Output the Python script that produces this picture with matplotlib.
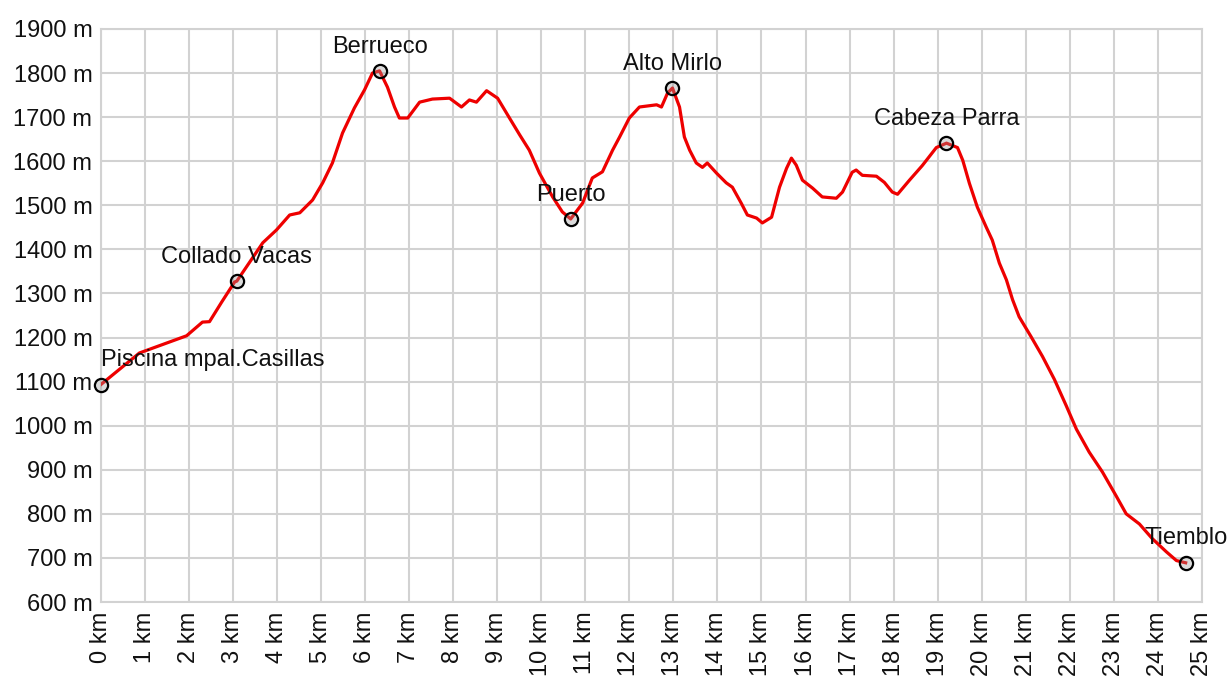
import matplotlib
matplotlib.use('Agg')
import matplotlib.pyplot as plt

# elevation profile (km, m)
dist = [0, 0.88, 1.95, 2.31, 2.47, 2.75, 3.04, 3.09, 3.68, 3.99, 4.29, 4.52, 4.81, 5.04,
        5.26, 5.49, 5.76, 5.99, 6.17, 6.33, 6.51, 6.67, 6.78, 6.97, 7.24, 7.53, 7.92, 8.19,
        8.37, 8.53, 8.76, 9.01, 9.28, 9.51, 9.73, 9.96, 10.26, 10.48, 10.67, 10.94, 11.16,
        11.39, 11.62, 11.78, 12.0, 12.23, 12.62, 12.73, 12.87, 12.98, 13.14, 13.25, 13.37,
        13.52, 13.66, 13.77, 13.98, 14.2, 14.34, 14.54, 14.68, 14.89, 15.02, 15.23, 15.41,
        15.57, 15.68, 15.79, 15.93, 16.16, 16.38, 16.7, 16.84, 17.06, 17.15, 17.29, 17.61,
        17.79, 17.97, 18.09, 18.36, 18.65, 18.97, 19.2, 19.45, 19.57, 19.72, 19.9, 20.1,
        20.24, 20.4, 20.56, 20.7, 20.85, 21.12, 21.38, 21.65, 21.92, 22.15, 22.44, 22.74,
        23.05, 23.28, 23.58, 23.87, 24.19, 24.42, 24.63]
elev = [1093, 1165, 1204, 1235, 1236, 1281, 1326, 1328, 1415, 1444, 1478, 1483, 1512, 1551,
        1596, 1664, 1721, 1762, 1800, 1805, 1768, 1723, 1698, 1698, 1734, 1741, 1743, 1723,
        1739, 1734, 1760, 1743, 1698, 1660, 1625, 1573, 1519, 1485, 1469, 1505, 1562,
        1576, 1625, 1655, 1698, 1723, 1728, 1723, 1755, 1766, 1723, 1655, 1625,
        1596, 1586, 1596, 1573, 1551, 1541, 1505, 1478, 1471, 1460, 1473, 1541,
        1584, 1607, 1591, 1557, 1539, 1519, 1516, 1530, 1575, 1580, 1568, 1566,
        1552, 1530, 1525, 1557, 1590, 1631, 1641, 1631, 1602, 1550, 1496, 1451,
        1421, 1369, 1331, 1286, 1247, 1202, 1157, 1105, 1045, 992, 940, 895,
        841, 800, 777, 744, 714, 694, 689]

wp_names = ['Piscina mpal.Casillas', 'Collado Vacas', 'Berrueco', 'Puerto',
            'Alto Mirlo', 'Cabeza Parra', 'Tiemblo']
wp_dist = [0, 3.09, 6.33, 10.67, 12.98, 19.2, 24.63]
wp_elev = [1093, 1328, 1805, 1469, 1766, 1641, 689]

km_ticks = list(range(0, 26))
m_ticks = list(range(600, 2000, 100))

plt.rcParams['font.family'] = ['Liberation Sans', 'DejaVu Sans']
grid_c = '#d2d2d2'

fig = plt.figure(figsize=(12.28, 6.82), dpi=100)
ax = fig.add_axes([0.082, 0.1173, 0.8968, 0.8402])

ax.plot(dist, elev, '-', color='#ee0000', linewidth=2.3, zorder=3)
ax.plot(wp_dist, wp_elev, 'o', markersize=9.5, markerfacecolor=(0.6, 0.6, 0.6, 0.35),
        markeredgecolor='black', markeredgewidth=1.6, linestyle='none', zorder=4,
        clip_on=False)

for name, d, e in zip(wp_names, wp_dist, wp_elev):
    ha = 'left' if d == 0 else 'center'
    ax.annotate(name, (d, e), xytext=(0, 17.5), textcoords='offset points',
                ha=ha, va='center', fontsize=17, color='#111111',
                annotation_clip=False, zorder=5)

ax.set_xlim(0, 25)
ax.set_ylim(600, 1900)
ax.set_xticks(km_ticks)
ax.set_xticklabels(['%d km' % k for k in km_ticks], rotation=90)
ax.set_yticks(m_ticks)
ax.set_yticklabels(['%d m' % m for m in m_ticks])
ax.tick_params(length=0, labelsize=17, colors='#111111')
ax.tick_params(axis='x', pad=7)
ax.tick_params(axis='y', pad=6)
ax.grid(True, color=grid_c, linewidth=1.5)
ax.set_axisbelow(True)
for s in ax.spines.values():
    s.set_color(grid_c)
    s.set_linewidth(1.5)

fig.savefig('out.png', dpi=100)
